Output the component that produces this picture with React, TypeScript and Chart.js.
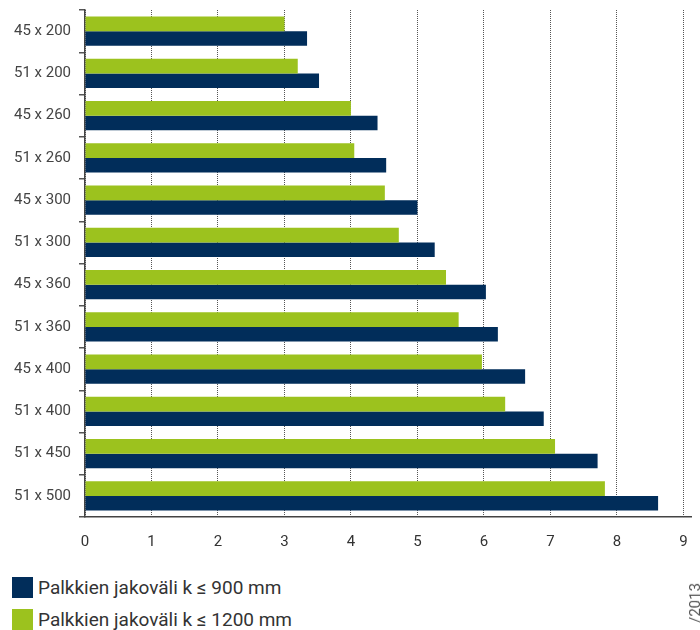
import React, { useEffect, useRef } from "react";
import { Chart, registerables } from "chart.js";

Chart.register(...registerables);

const categories = [
  "45 x 200",
  "51 x 200",
  "45 x 260",
  "51 x 260",
  "45 x 300",
  "51 x 300",
  "45 x 360",
  "51 x 360",
  "45 x 400",
  "51 x 400",
  "51 x 450",
  "51 x 500",
];
const spacing1200 = [3.0, 3.2, 4.0, 4.05, 4.51, 4.72, 5.43, 5.62, 5.97, 6.32, 7.07, 7.82];
const spacing900 = [3.34, 3.52, 4.4, 4.53, 5.0, 5.26, 6.03, 6.21, 6.62, 6.9, 7.71, 8.62];
const xTickValues = [0, 1, 2, 3, 4, 5, 6, 7, 8, 9];
const legendLabels = ["Palkkien jakoväli k ≤ 900 mm", "Palkkien jakoväli k ≤ 1200 mm"];
const sideNote = "/2013";

const NAVY = "#012d5a";
const GREEN = "#9cc21e";
const FONT = "Roboto, 'Liberation Sans', sans-serif";

export default function App() {
  const canvasRef = useRef<HTMLCanvasElement | null>(null);

  useEffect(() => {
    const canvas = canvasRef.current;
    if (!canvas) return;
    const chart = new Chart(canvas, {
      type: "bar",
      data: {
        labels: categories,
        datasets: [
          {
            label: legendLabels[1],
            data: spacing1200,
            backgroundColor: GREEN,
            barPercentage: 1,
            categoryPercentage: 0.69,
          },
          {
            label: legendLabels[0],
            data: spacing900,
            backgroundColor: NAVY,
            barPercentage: 1,
            categoryPercentage: 0.69,
          },
        ],
      },
      options: {
        indexAxis: "y",
        responsive: false,
        animation: false,
        devicePixelRatio: 1,
        layout: { padding: { top: 2, right: 0, bottom: 2, left: 0 } },
        plugins: {
          legend: { display: false },
          tooltip: { enabled: false },
        },
        scales: {
          y: {
            type: "category",
            offset: true,
            grid: {
              drawOnChartArea: false,
              offset: true,
              tickLength: 6,
              color: "#555",
              lineWidth: 1.5,
            },
            border: { color: "#444", width: 1.5 },
            ticks: {
              color: "#444",
              padding: 8,
              font: { family: FONT, size: 15 },
            },
            afterFit: (scale: any) => {
              scale.width = 77;
              scale.paddingTop = 0;
              scale.paddingBottom = 0;
            },
          },
          x: {
            type: "linear",
            min: 0,
            max: 9.13,
            ticks: {
              stepSize: 1,
              includeBounds: false,
              color: "#333",
              padding: 16,
              font: { family: FONT, size: 15 },
            },
            afterBuildTicks: (scale: any) => {
              scale.ticks = scale.ticks.filter((t: any) => xTickValues.includes(t.value));
            },
            afterFit: (scale: any) => {
              scale.height = 34;
              scale.paddingLeft = 0;
              scale.paddingRight = 0;
            },
            grid: {
              color: "#555",
              lineWidth: 1,
              drawTicks: false,
            },
            border: { color: "#444", width: 1.5, dash: [1, 1] },
          },
        },
      },
    });
    return () => chart.destroy();
  }, []);

  const legendColors = [NAVY, GREEN];

  return (
    <div
      style={{
        position: "relative",
        width: 684,
        height: 622,
        overflow: "hidden",
        fontFamily: FONT,
      }}
    >
      <canvas ref={canvasRef} width={684} height={545} style={{ display: "block" }} />
      <div style={{ marginTop: 24, marginLeft: 4 }}>
        {legendLabels.map((label, i) => (
          <div
            key={label}
            style={{
              display: "flex",
              alignItems: "center",
              height: 21,
              marginBottom: 11,
            }}
          >
            <span
              style={{
                display: "inline-block",
                width: 21,
                height: 21,
                background: legendColors[i],
                marginRight: 5,
              }}
            />
            <span style={{ fontSize: 19, color: "#333", whiteSpace: "nowrap" }}>{label}</span>
          </div>
        ))}
      </div>
      <span
        style={{
          position: "fixed",
          left: 688,
          top: 583,
          writingMode: "vertical-rl",
          transform: "rotate(180deg)",
          fontSize: 15,
          lineHeight: "14px",
          color: "#555",
          whiteSpace: "nowrap",
        }}
      >
        {sideNote}
      </span>
    </div>
  );
}
